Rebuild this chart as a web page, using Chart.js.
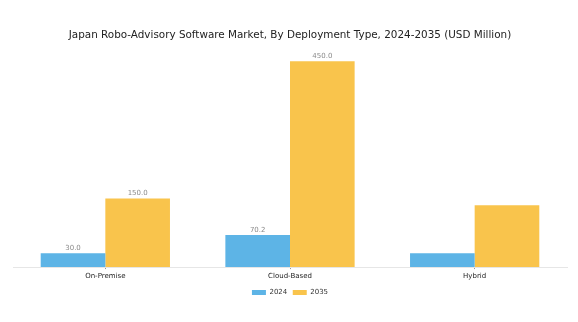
<!DOCTYPE html>
<html>
<head>
<meta charset="utf-8">
<script src="https://cdn.jsdelivr.net/npm/chart.js@4/dist/chart.umd.min.js"></script>
<style>
  html, body { margin: 0; padding: 0; background: #ffffff; }
  #wrap { width: 578px; height: 322px; }
</style>
</head>
<body>
<div id="wrap"><canvas id="c" width="578" height="322"></canvas></div>
<script>
const categories = ["On-Premise", "Cloud-Based", "Hybrid"];
const values2024 = [30.0, 70.2, 30.0];
const values2035 = [150.0, 450.0, 135.0];
const labels2024 = ["30.0", "70.2", null];
const labels2035 = ["150.0", "450.0", null];
const seriesNames = ["2024", "2035"];

const valueLabelPlugin = {
  id: 'valueLabels',
  afterDatasetsDraw(chart) {
    const ctx = chart.ctx;
    const lbls = [labels2024, labels2035];
    chart.data.datasets.forEach((ds, i) => {
      const meta = chart.getDatasetMeta(i);
      meta.data.forEach((el, j) => {
        const t = lbls[i][j];
        if (!t) return;
        ctx.save();
        ctx.font = '7px "DejaVu Sans"';
        ctx.fillStyle = '#8a8a8a';
        ctx.textAlign = 'center';
        ctx.textBaseline = 'middle';
        ctx.fillText(t, el.x, el.y - 5);
        ctx.restore();
      });
    });
  }
};

new Chart(document.getElementById('c'), {
  type: 'bar',
  data: {
    labels: categories,
    datasets: [
      { label: seriesNames[0], data: values2024, backgroundColor: '#5db4e6', borderWidth: 0 },
      { label: seriesNames[1], data: values2035, backgroundColor: '#f9c44c', borderWidth: 0 }
    ]
  },
  options: {
    responsive: false,
    animation: false,
    devicePixelRatio: 1,
    layout: { padding: { left: 13, right: 11, top: 0, bottom: 16 } },
    datasets: { bar: { categoryPercentage: 0.70, barPercentage: 1.0 } },
    plugins: {
      title: {
        display: true,
        text: 'Japan Robo-Advisory Software Market, By Deployment Type, 2024-2035 (USD Million)',
        font: { family: 'DejaVu Sans', size: 10.4, weight: 'normal' },
        color: '#222222',
        padding: { top: 29, bottom: 6 }
      },
      legend: {
        position: 'bottom',
        labels: {
          font: { family: 'DejaVu Sans', size: 7 },
          color: '#333333',
          boxWidth: 14,
          boxHeight: 5,
          padding: 5.5
        }
      },
      tooltip: { enabled: false }
    },
    scales: {
      x: {
        grid: { display: true, drawOnChartArea: false, drawTicks: true, tickLength: 2, offset: false, color: '#999999' },
        border: { display: true, color: '#e6e6e6' },
        ticks: { font: { family: 'DejaVu Sans', size: 7 }, color: '#222222', padding: 3 }
      },
      y: {
        display: false,
        min: 0,
        max: 480
      }
    }
  },
  plugins: [valueLabelPlugin]
});
</script>
</body>
</html>
